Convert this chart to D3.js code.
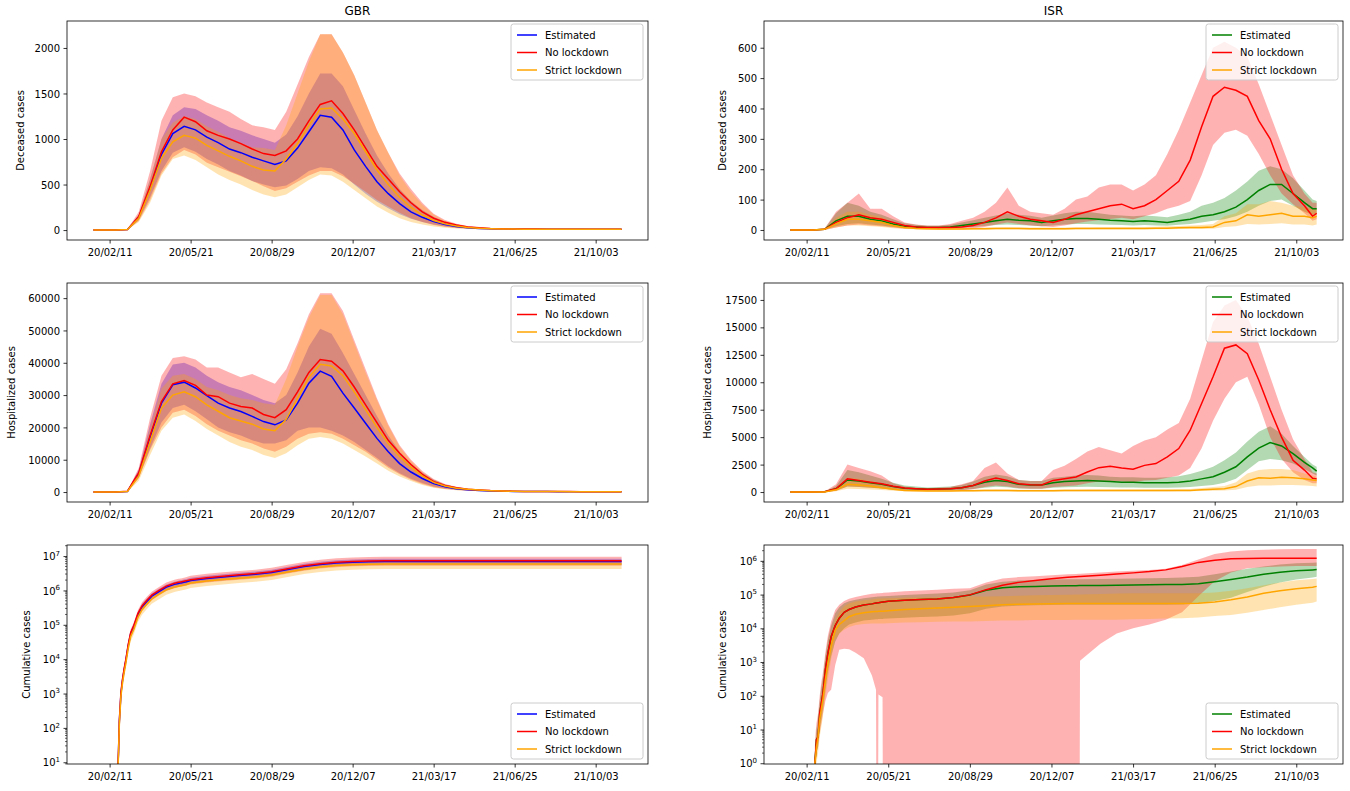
<!DOCTYPE html>
<html>
<head>
<meta charset="utf-8">
<script src="https://cdn.jsdelivr.net/npm/d3@7"></script>
<style>
body { margin: 0; background: #fff; }
svg { font-family: "DejaVu Sans", sans-serif; }
</style>
</head>
<body>
<script>
// day offsets from 2020-01-22
var start = new Date(2020, 0, 22)
var gbrDays = [0,14,28,42,56,70,84,98,112,126,140,154,168,182,196,210,224,238,252,266,280,294,308,322,336,350,364,378,392,406,420,434,448,462,476,490,504,518,532,546,560,574,588,602,616,630,644,652]
var isrDays = [0,14,28,42,56,70,84,98,112,126,140,154,168,182,196,210,224,238,252,266,280,294,308,322,336,350,364,378,392,406,420,434,448,462,476,490,504,518,532,546,560,574,588,602,616,630,640,645]
var gbrCumDays = [28,30,31,32,34,36,38,40,43,46,50,55,60,66,72,80,90,100,105,106,107,108,113,114,120,140,160,180,200,220,240,260,280,300,320,340,360,361,362,380,400,420,440,460,480,500,520,540,560,580,600,620,640,652]
var isrCumDays = [28,30,31,32,34,36,38,40,43,46,50,55,60,66,72,80,90,100,105,106,107,108,113,114,120,140,160,180,200,220,240,260,280,300,320,340,350,354,355,380,400,420,440,460,480,500,520,540,560,580,600,620,640,645]
var tickDates = ["2020-02-11","2020-05-21","2020-08-29","2020-12-07","2021-03-17","2021-06-25","2021-10-03"]
var seriesNames = ["Estimated", "No lockdown", "Strict lockdown"]

// GBR deceased
var gbrDeathEst = [0,0,0,5,140,460,830,1060,1140,1100,1020,960,890,850,800,760,720,760,900,1080,1260,1240,1100,880,700,530,400,290,200,140,95,60,40,25,18,14,12,11,10,10,10,9,9,8,8,8,8,8]
var gbrDeathEstLo = [0,0,0,3,110,360,650,850,910,860,780,720,650,600,540,500,470,490,560,650,690,680,610,500,400,310,240,175,125,90,60,38,26,17,12,9,8,7,7,7,6,6,6,6,6,6,6,6]
var gbrDeathEstHi = [0,0,0,7,170,560,1000,1260,1350,1330,1260,1200,1130,1090,1040,1000,960,1050,1250,1500,1720,1720,1580,1320,1060,820,620,450,320,220,145,92,60,38,27,21,17,15,14,14,14,13,13,12,12,12,12,12]
var gbrDeathNol = [0,0,0,5,150,480,860,1100,1240,1190,1090,1040,1000,950,890,840,820,870,1000,1200,1380,1420,1280,1100,900,700,560,420,300,200,130,85,55,35,25,18,14,12,11,11,10,10,10,10,9,9,9,9]
var gbrDeathNolLo = [0,0,0,3,100,330,620,800,880,830,740,690,640,590,540,480,430,460,530,600,650,650,590,510,420,330,260,190,130,90,55,36,24,16,11,8,7,6,6,6,5,5,5,5,5,5,5,5]
var gbrDeathNolHi = [0,0,0,8,200,650,1200,1460,1500,1470,1400,1350,1300,1220,1150,1130,1100,1300,1600,1900,2150,2150,1950,1700,1400,1100,850,620,450,300,180,110,70,45,32,24,19,17,16,15,15,14,14,14,13,13,13,13]
var gbrDeathStr = [0,0,0,5,130,440,790,970,1040,1010,930,870,810,760,700,660,650,780,950,1150,1330,1340,1220,1060,860,660,500,360,250,165,105,68,44,29,20,15,12,11,10,10,10,9,9,9,9,8,8,8]
var gbrDeathStrLo = [0,0,0,3,90,300,600,780,820,770,690,610,550,500,440,390,360,390,470,550,610,600,530,440,350,260,190,130,90,60,38,25,17,11,8,6,5,5,5,4,4,4,4,4,4,4,4,4]
var gbrDeathStrHi = [0,0,0,7,170,560,1000,1180,1250,1220,1140,1080,1010,960,910,900,880,1150,1500,1850,2150,2150,1950,1700,1400,1100,850,600,420,280,170,100,65,42,28,20,16,14,13,13,12,12,12,11,11,11,11,11]

// ISR deceased
var isrDeathEst = [0,0,0,2,30,45,45,35,30,20,12,10,8,8,10,15,20,25,30,35,32,30,25,30,35,38,38,35,32,30,28,30,28,25,30,35,45,50,60,75,100,130,150,150,120,90,70,70]
var isrDeathEstLo = [0,0,0,1,12,20,22,18,15,10,6,5,4,4,5,8,10,13,16,18,16,15,12,15,18,20,20,18,17,16,15,16,15,14,17,20,25,30,35,45,60,80,95,100,80,60,50,50]
var isrDeathEstHi = [0,0,0,4,55,90,80,60,50,35,22,17,14,14,17,25,32,40,48,55,50,47,40,48,55,60,60,55,50,48,45,48,45,42,50,60,80,90,105,130,160,195,210,200,170,130,100,95]
var isrDeathNol = [0,0,0,2,25,40,50,40,35,25,15,10,8,8,8,10,15,25,40,60,45,35,30,25,35,50,60,70,80,85,70,80,100,130,160,230,340,440,470,460,440,360,300,200,120,80,45,55]
var isrDeathNolLo = [0,0,0,0,8,15,18,15,12,8,4,3,2,2,3,4,6,10,18,25,20,15,12,10,15,22,28,32,36,40,35,45,55,70,80,95,180,280,320,330,310,250,180,120,85,55,30,35]
var isrDeathNolHi = [0,0,0,5,60,90,120,70,70,45,25,18,15,15,20,30,40,60,90,140,80,60,55,50,70,100,110,140,150,150,130,150,180,250,330,420,510,600,620,600,570,480,380,280,180,120,90,90]
var isrDeathStr = [0,0,0,2,20,35,35,30,25,15,8,5,4,3,3,3,4,4,5,5,5,4,4,4,4,5,5,5,5,5,5,5,6,6,7,8,8,10,25,30,50,45,50,55,45,45,40,45]
var isrDeathStrLo = [0,0,0,0,8,15,15,12,10,6,3,2,1,1,1,1,1,1,2,2,2,1,1,1,1,2,2,2,2,2,2,2,2,2,3,3,3,4,10,12,20,18,20,22,18,18,15,18]
var isrDeathStrHi = [0,0,0,3,40,60,60,50,42,25,14,9,7,6,6,6,7,8,9,10,9,8,8,8,8,9,9,10,10,10,10,10,11,12,13,15,16,20,45,55,85,85,95,90,80,75,70,70]

// GBR hospitalized
var gbrHospEst = [0,0,0,200,5700,17100,27500,33200,34000,32200,29800,27500,26000,24900,23400,21800,20800,22300,27500,33700,37400,35800,30600,26000,21300,16600,12500,8800,6200,4200,2600,1600,1000,700,500,350,250,200,170,150,140,130,120,110,100,100,100,100]
var gbrHospEstLo = [0,0,0,150,4500,13500,21500,26000,27000,25000,22500,20000,18500,17500,16000,15000,15000,16000,19000,20000,20000,19000,17500,15500,13000,10500,8000,5800,4100,2800,1750,1080,680,480,340,240,170,135,115,100,95,88,80,75,68,68,68,68]
var gbrHospEstHi = [0,0,0,250,7000,21000,33500,39500,40000,38500,36000,34000,32500,31500,30000,28500,27500,30000,37000,45000,50500,49000,43000,36500,30000,23500,17500,12500,8800,6000,3800,2300,1450,1000,720,500,360,290,245,215,200,185,170,160,145,145,145,145]
var gbrHospNol = [0,0,0,250,6000,17500,28000,33500,34500,33000,30000,29500,27500,26500,26000,24000,23000,25500,31000,37000,41000,40500,37500,32500,27000,21500,16000,12000,8500,5500,3200,2000,1300,900,650,450,330,250,200,180,160,150,140,130,120,120,120,120]
var gbrHospNolLo = [0,0,0,180,4300,13000,20000,24500,25500,23500,21000,19000,17500,16000,15000,13500,12500,14000,16500,18000,18500,18000,16500,14500,12500,10000,7500,5500,3800,2500,1500,950,600,420,300,210,150,120,100,90,80,75,70,65,60,60,60,60]
var gbrHospNolHi = [0,0,0,300,7500,23000,36000,41500,42000,41000,38500,38500,37000,35500,36500,35000,33500,38000,46000,55000,61500,61500,56000,47000,38000,29000,21000,14500,10000,6500,4000,2500,1600,1100,800,560,410,310,250,220,200,185,170,160,150,150,150,150]
var gbrHospStr = [0,0,0,180,5000,15500,26000,30000,31000,29500,27000,25000,23000,22000,21000,19500,19000,22500,29000,35500,39500,39000,36000,31000,25500,20000,15000,11000,7700,5000,3000,1900,1200,850,600,420,300,230,190,170,150,140,130,120,110,110,110,110]
var gbrHospStrLo = [0,0,0,120,3500,11500,19000,23000,24000,22000,19500,17500,15500,14000,13000,11500,10500,12000,14500,16500,17000,16500,15000,13000,11000,8800,6600,4800,3400,2200,1350,850,540,380,270,190,135,105,90,80,72,66,62,58,55,55,55,55]
var gbrHospStrHi = [0,0,0,230,6300,20000,32000,36000,36500,35000,32500,31500,30000,29000,28500,27500,27000,35000,45000,54000,61000,61000,55000,46000,37000,28500,20500,14000,9600,6200,3800,2400,1500,1050,760,530,380,290,240,210,190,175,165,150,140,140,140,140]

// ISR hospitalized
var isrHospEst = [0,0,0,20,300,1100,1000,850,700,500,350,300,250,270,300,400,600,900,1050,950,700,650,650,850,950,1000,1050,1000,950,900,900,850,850,850,900,1000,1200,1400,1800,2300,3200,4000,4500,4200,3500,2700,2200,1900]
var isrHospEstLo = [0,0,0,8,120,500,450,380,320,230,160,130,110,120,130,180,270,400,480,430,320,290,290,380,430,450,480,450,430,410,410,390,390,390,420,470,550,650,850,1200,2000,2800,3000,2900,2600,2100,1700,1500]
var isrHospEstHi = [0,0,0,35,550,2000,1800,1500,1200,850,600,500,420,450,500,650,950,1400,1600,1450,1100,1000,1000,1300,1400,1500,1550,1500,1400,1350,1350,1300,1300,1350,1450,1650,1950,2300,2900,3600,4600,5500,6000,5300,4200,3200,2500,2300]
var isrHospNol = [0,0,0,20,300,1200,1060,900,760,520,365,300,250,270,300,400,600,1000,1280,1050,760,670,640,1060,1220,1370,1830,2220,2340,2190,2070,2430,2590,3200,3960,5630,8060,10500,13100,13400,12600,10200,7500,5000,2900,2000,1250,1200]
var isrHospNolLo = [0,0,0,5,100,500,450,380,320,220,150,120,100,110,130,170,260,450,600,500,350,300,290,450,520,600,800,950,1000,950,900,1050,1100,1300,1500,2200,4000,6500,8500,10000,10500,8000,5000,3000,1800,1100,800,800]
var isrHospNolHi = [0,0,0,40,700,2500,2200,1900,1500,800,500,400,350,380,450,700,1000,2200,2700,1700,1100,1000,1000,2000,2400,3000,3700,4100,3800,3500,4200,4700,5000,5700,6300,8500,12000,15500,17000,17500,16000,13500,10500,7500,4800,3000,1800,1700]
var isrHospStr = [0,0,0,10,200,700,650,550,400,250,150,120,100,100,100,110,120,130,140,130,120,110,110,120,130,130,140,140,140,140,140,140,140,140,150,150,200,250,300,500,1000,1300,1250,1350,1300,1200,1100,1050]
var isrHospStrLo = [0,0,0,4,80,300,280,240,180,110,65,50,40,40,40,45,50,55,60,55,50,45,45,50,55,55,60,60,60,60,60,60,60,60,65,65,90,110,130,220,450,600,600,650,650,600,550,500]
var isrHospStrHi = [0,0,0,20,400,1300,1200,1000,750,450,280,220,180,180,180,200,220,240,260,240,220,200,200,220,240,240,260,260,260,260,260,260,260,260,280,280,370,450,550,900,1700,2000,2100,2100,2000,1700,1500,1400]

// GBR cumulative
var gbrCumEst = [0,5,20,150,1000,2500,5000,9000,25000,55000,90000,200000,330000,480000,680000,900000,1250000,1500000,1600000,1620000,1640000,1650000,1750000,1770000,1950000,2230000,2470000,2710000,2950000,3330000,4090000,4940000,5700000,6270000,6650000,6840000,6940000,6940000,6940000,6940000,6940000,6940000,6940000,6940000,6940000,6940000,6940000,6940000,6940000,6940000,6940000,6940000,6940000,6940000]
var gbrCumEstLo = [0,4,16,120,800,2000,4000,7200,20000,44000,72000,160000,264000,384000,544000,720000,1000000,1200000,1280000,1300000,1310000,1320000,1400000,1420000,1560000,1780000,1980000,2170000,2360000,2660000,3270000,3950000,4560000,5020000,5320000,5470000,5550000,5550000,5550000,5550000,5550000,5550000,5550000,5550000,5550000,5550000,5550000,5550000,5550000,5550000,5550000,5550000,5550000,5550000]
var gbrCumEstHi = [0,6,24,180,1200,3000,6000,10800,30000,66000,108000,240000,400000,580000,820000,1080000,1500000,1800000,1920000,1940000,1970000,1980000,2100000,2120000,2340000,2680000,2960000,3250000,3540000,4000000,4910000,5930000,6840000,7520000,7980000,8210000,8330000,8330000,8330000,8330000,8330000,8330000,8330000,8330000,8330000,8330000,8330000,8330000,8330000,8330000,8330000,8330000,8330000,8330000]
var gbrCumNol = [0,5,22,160,1100,2700,5400,9700,27000,59000,97000,215000,355000,515000,730000,965000,1340000,1610000,1720000,1740000,1760000,1770000,1880000,1900000,2050000,2350000,2600000,2850000,3100000,3500000,4300000,5200000,6000000,6600000,7000000,7200000,7300000,7300000,7300000,7300000,7300000,7300000,7300000,7300000,7300000,7300000,7300000,7300000,7300000,7300000,7300000,7300000,7300000,7300000]
var gbrCumNolLo = [0,3,15,110,780,1900,3800,6900,19000,42000,68000,150000,250000,370000,520000,690000,960000,1150000,1230000,1250000,1260000,1270000,1350000,1360000,1480000,1690000,1870000,2050000,2230000,2520000,3100000,3740000,4320000,4750000,5040000,5180000,5260000,5260000,5260000,5260000,5260000,5260000,5260000,5260000,5260000,5260000,5260000,5260000,5260000,5260000,5260000,5260000,5260000,5260000]
var gbrCumNolHi = [0,7,28,200,1400,3400,6800,12000,34000,74000,120000,270000,450000,650000,920000,1220000,1700000,2040000,2180000,2200000,2230000,2240000,2380000,2400000,2670000,3060000,3380000,3700000,4030000,4550000,5600000,6760000,7800000,8580000,9100000,9360000,9490000,9490000,9490000,9490000,9490000,9490000,9490000,9490000,9490000,9490000,9490000,9490000,9490000,9490000,9490000,9490000,9490000,9490000]
var gbrCumStr = [0,4,17,125,850,2100,4200,7500,21000,46000,75000,166000,274000,400000,565000,750000,1040000,1250000,1330000,1340000,1360000,1370000,1450000,1470000,1640000,1880000,2080000,2280000,2480000,2800000,3440000,4160000,4800000,5280000,5600000,5760000,5840000,5840000,5840000,5840000,5840000,5840000,5840000,5840000,5840000,5840000,5840000,5840000,5840000,5840000,5840000,5840000,5840000,5840000]
var gbrCumStrLo = [0,3,12,90,610,1500,3000,5400,15000,33000,54000,120000,197000,288000,407000,540000,750000,900000,960000,965000,980000,990000,1040000,1060000,1180000,1350000,1500000,1640000,1790000,2020000,2480000,3000000,3460000,3800000,4030000,4150000,4200000,4200000,4200000,4200000,4200000,4200000,4200000,4200000,4200000,4200000,4200000,4200000,4200000,4200000,4200000,4200000,4200000,4200000]
var gbrCumStrHi = [0,5,20,150,1000,2500,5000,9000,25000,55000,90000,200000,330000,480000,680000,900000,1250000,1500000,1600000,1620000,1640000,1650000,1750000,1770000,1970000,2260000,2500000,2740000,2980000,3360000,4130000,4990000,5760000,6340000,6720000,6910000,7010000,7010000,7010000,7010000,7010000,7010000,7010000,7010000,7010000,7010000,7010000,7010000,7010000,7010000,7010000,7010000,7010000,7010000]

// ISR cumulative
var isrCumEst = [0,1,2,5,6,30,60,120,600,1800,5600,12000,20000,30000,36000,43000,49000,53000,56000,56500,57000,57500,60000,60500,63000,68000,71000,74000,82000,97000,135000,160000,170000,175000,180000,183000,184000,185000,185000,187000,190000,192000,195000,198000,200000,210000,240000,280000,330000,400000,460000,510000,540000,550000]
var isrCumEstLo = [0,0,1,2,3,10,20,40,150,500,1500,4000,7000,10000,13000,15000,17000,18000,18500,18600,18700,18800,19000,19100,19500,20500,21500,22500,24000,28000,38000,44000,47000,48000,49000,50000,50000,50000,50000,50000,50000,50000,50000,50000,51000,55000,65000,80000,120000,170000,230000,280000,320000,340000]
var isrCumEstHi = [0,2,5,10,20,70,180,350,1500,4500,12000,28000,42000,55000,63000,70000,78000,84000,86000,86500,87000,87000,89000,89500,91000,97000,102000,107000,115000,135000,200000,240000,260000,270000,278000,283000,285000,286000,286000,290000,295000,300000,305000,310000,320000,340000,400000,480000,580000,680000,780000,850000,880000,900000]
var isrCumNol = [0,1,2,5,6,30,60,120,600,1800,5600,12000,20000,30000,36000,43000,49000,53000,56000,56500,57000,57500,60000,60500,63000,68000,71000,74000,82000,98000,140000,190000,230000,262000,295000,325000,338000,342000,343000,375000,405000,440000,480000,540000,680000,900000,1050000,1150000,1180000,1200000,1200000,1200000,1200000,1200000]
var isrCumNolLo = [0,0,1,2,3,8,15,30,70,120,150,800,2300,2500,2400,1900,1300,400,150,0,0,110,90,0,0,0,0,0,0,0,0,0,0,0,0,0,0,0,1100,3500,7000,10000,13000,18000,30000,90000,250000,450000,600000,650000,680000,700000,700000,700000]
var isrCumNolHi = [0,3,8,15,30,100,250,500,2000,6000,16000,35000,50000,65000,75000,85000,95000,105000,108000,109000,110000,110000,112000,113000,116000,125000,133000,140000,148000,155000,230000,300000,330000,350000,375000,400000,410000,415000,415000,450000,480000,510000,540000,580000,750000,1100000,1600000,1900000,2050000,2150000,2200000,2250000,2250000,2250000]
var isrCumStr = [0,1,1.5,3,6,20,40,80,300,900,2900,8900,13000,17000,22000,26000,29000,31000,31500,31600,31700,31800,32000,32100,33000,36000,38000,40000,42000,44000,47000,50000,52000,53000,53500,54000,54000,54000,54000,54000,54000,54000,54000,54000,54500,55000,60000,70000,85000,110000,130000,150000,165000,175000]
var isrCumStrLo = [0,0,1,1,2,6,12,25,100,300,1200,4600,7000,9000,11000,12500,13500,14000,14000,14000,14000,14000,14000,14000,14200,14800,15200,15600,16000,16000,16500,17000,17000,17500,17500,17500,17800,18000,18000,18000,18000,18500,19000,19500,20000,21000,23000,25000,29000,35000,42000,50000,57000,62000]
var isrCumStrHi = [0,2,3,6,12,40,80,160,600,1800,6000,18000,30000,45000,55000,62000,68000,72000,75000,75500,76000,76000,77000,77500,78000,80000,82000,84000,86000,87000,88000,90000,93000,95000,97000,99000,100000,101000,101000,104000,108000,110000,110000,110000,110000,110000,115000,130000,155000,190000,230000,265000,290000,300000]

var gbrColors = ["blue", "red", "orange"]
var isrColors = ["green", "red", "orange"]

var W = 1350, H = 791
var svg = d3.select("body").append("svg").attr("width", W).attr("height", H)

var cols = [{x0: 67, x1: 648}, {x0: 764, x1: 1343}]
var rows = [{y0: 21, y1: 240}, {y0: 283, y1: 502}, {y0: 545, y1: 764}]

function dateOf(d) { return new Date(start.getTime() + d * 864e5) }
var parseDay = d3.timeParse("%Y-%m-%d")
var fmt = d3.timeFormat("%y/%m/%d")

var panels = [
  {col: 0, row: 0, title: "GBR", ylabel: "Deceased cases", labelX: 20, days: gbrDays, span: 652, domain: [-109, 2296], ticks: [0,500,1000,1500,2000], colors: gbrColors,
   series: [[gbrDeathEst, gbrDeathEstLo, gbrDeathEstHi], [gbrDeathNol, gbrDeathNolLo, gbrDeathNolHi], [gbrDeathStr, gbrDeathStrLo, gbrDeathStrHi]], legend: "top"},
  {col: 1, row: 0, title: "ISR", ylabel: "Deceased cases", labelX: 722, days: isrDays, span: 645, domain: [-33, 688], ticks: [0,100,200,300,400,500,600], colors: isrColors,
   series: [[isrDeathEst, isrDeathEstLo, isrDeathEstHi], [isrDeathNol, isrDeathNolLo, isrDeathNolHi], [isrDeathStr, isrDeathStrLo, isrDeathStrHi]], legend: "top"},
  {col: 0, row: 1, ylabel: "Hospitalized cases", labelX: 11, days: gbrDays, span: 652, domain: [-3080, 64680], ticks: [0,10000,20000,30000,40000,50000,60000], colors: gbrColors,
   series: [[gbrHospEst, gbrHospEstLo, gbrHospEstHi], [gbrHospNol, gbrHospNolLo, gbrHospNolHi], [gbrHospStr, gbrHospStrLo, gbrHospStrHi]], legend: "top"},
  {col: 1, row: 1, ylabel: "Hospitalized cases", labelX: 707, days: isrDays, span: 645, domain: [-907, 19042], ticks: [0,2500,5000,7500,10000,12500,15000,17500], colors: isrColors,
   series: [[isrHospEst, isrHospEstLo, isrHospEstHi], [isrHospNol, isrHospNolLo, isrHospNolHi], [isrHospStr, isrHospStrLo, isrHospStrHi]], legend: "top"},
  {col: 0, row: 2, ylabel: "Cumulative cases", labelX: 26, days: gbrCumDays, span: 652, log: true, domain: [8.9, 2.1e7], ticks: [1e1,1e2,1e3,1e4,1e5,1e6,1e7], colors: gbrColors,
   series: [[gbrCumEst, gbrCumEstLo, gbrCumEstHi], [gbrCumNol, gbrCumNolLo, gbrCumNolHi], [gbrCumStr, gbrCumStrLo, gbrCumStrHi]], legend: "bottom"},
  {col: 1, row: 2, ylabel: "Cumulative cases", labelX: 722, days: isrCumDays, span: 645, log: true, domain: [0.95, 2.95e6], ticks: [1,1e1,1e2,1e3,1e4,1e5,1e6], colors: isrColors,
   series: [[isrCumEst, isrCumEstLo, isrCumEstHi], [isrCumNol, isrCumNolLo, isrCumNolHi], [isrCumStr, isrCumStrLo, isrCumStrHi]], legend: "bottom"}
]

panels.forEach(function(p, pi) {
  var x0 = cols[p.col].x0, x1 = cols[p.col].x1
  var y0 = rows[p.row].y0, y1 = rows[p.row].y1
  var pad = p.span * 0.05
  var x = d3.scaleTime().domain([dateOf(-pad), dateOf(p.span + pad)]).range([x0, x1])
  var y = (p.log ? d3.scaleLog() : d3.scaleLinear()).domain(p.domain).range([y1, y0])
  var yv = function(v) {
    if (p.log && v <= 0) return y1 + 200
    return y(v)
  }
  var xv = function(d, i) { return x(dateOf(p.days[i])) }

  svg.append("clipPath").attr("id", "clip" + pi).append("rect")
    .attr("x", x0).attr("y", y0).attr("width", x1 - x0).attr("height", y1 - y0)
  var plot = svg.append("g").attr("clip-path", "url(#clip" + pi + ")")

  // bands first (they sit under every line, like matplotlib's zorder)
  p.series.forEach(function(s, si) {
    var area = d3.area().x(xv)
      .y0(function(d, i) { return yv(s[1][i]) })
      .y1(function(d, i) { return yv(s[2][i]) })
    plot.append("path").attr("d", area(s[0])).attr("fill", p.colors[si]).attr("fill-opacity", 0.3)
  })
  p.series.forEach(function(s, si) {
    var line = d3.line().x(xv).y(function(d) { return yv(d) })
    plot.append("path").attr("d", line(s[0])).attr("fill", "none").attr("stroke", p.colors[si]).attr("stroke-width", 1.5)
  })

  // x axis
  var xAxis = d3.axisBottom(x).tickValues(tickDates.map(parseDay)).tickFormat(fmt).tickSizeOuter(0).tickSize(3.5).tickPadding(3.5)
  var gx = svg.append("g").attr("transform", "translate(0," + y1 + ")").call(xAxis)
  gx.select(".domain").remove()
  gx.selectAll(".tick line").attr("stroke", "#000").attr("stroke-width", 0.8)
  gx.selectAll(".tick text").attr("font-size", 10).attr("fill", "#000").attr("font-family", "DejaVu Sans").attr("dy", null).attr("y", 16.3)

  // y axis
  var yAxis = d3.axisLeft(y).tickValues(p.ticks).tickSizeOuter(0).tickSize(3.5).tickPadding(3.5).tickFormat(p.log ? function() { return "" } : d3.format("d"))
  var gy = svg.append("g").attr("transform", "translate(" + x0 + ",0)").call(yAxis)
  gy.select(".domain").remove()
  gy.selectAll(".tick line").attr("stroke", "#000").attr("stroke-width", 0.8)
  gy.selectAll(".tick text").attr("font-size", 10).attr("fill", "#000").attr("font-family", "DejaVu Sans").attr("dy", "0.36em")
  if (p.log) {
    gy.selectAll(".tick text").each(function(d) {
      var t = d3.select(this)
      t.append("tspan").text("10")
      t.append("tspan").attr("dy", "-0.6em").attr("font-size", 7).text(Math.round(Math.log10(d)))
    })
    var minor = []
    for (var n = -1; n < 8; n++) {
      for (var k = 2; k < 10; k++) {
        var v = k * Math.pow(10, n)
        if (v > p.domain[0] && v < p.domain[1]) minor.push(v)
      }
    }
    gy.selectAll(".minor").data(minor).enter().append("line")
      .attr("x1", -2).attr("x2", 0)
      .attr("y1", function(d) { return y(d) }).attr("y2", function(d) { return y(d) })
      .attr("stroke", "#000").attr("stroke-width", 0.6)
  }

  // frame
  svg.append("rect").attr("x", x0).attr("y", y0).attr("width", x1 - x0).attr("height", y1 - y0)
    .attr("fill", "none").attr("stroke", "#000").attr("stroke-width", 0.8)

  // y label
  var cy = (y0 + y1) / 2
  svg.append("text").attr("transform", "translate(" + (p.labelX + 3.5) + "," + cy + ") rotate(-90)")
    .attr("text-anchor", "middle").attr("font-size", 10).attr("fill", "#000").text(p.ylabel)

  if (p.title) {
    svg.append("text").attr("x", (x0 + x1) / 2).attr("y", y0 - 6)
      .attr("text-anchor", "middle").attr("font-size", 12).attr("fill", "#000").text(p.title)
  }

  // legend
  var lw = 132, lh = 56
  var lx = x1 - 5 - lw
  var ly = p.legend == "top" ? y0 + 3 : y1 - 5 - lh
  var lg = svg.append("g").attr("transform", "translate(" + lx + "," + ly + ")")
  lg.append("rect").attr("width", lw).attr("height", lh).attr("rx", 2.5)
    .attr("fill", "#fff").attr("fill-opacity", 0.8).attr("stroke", "#cccccc").attr("stroke-width", 1)
  seriesNames.forEach(function(name, i) {
    var ey = 11 + i * 17.5
    lg.append("line").attr("x1", 6).attr("x2", 26).attr("y1", ey).attr("y2", ey)
      .attr("stroke", p.colors[i]).attr("stroke-width", 1.5)
    lg.append("text").attr("x", 34).attr("y", ey).attr("dy", "0.36em")
      .attr("font-size", 10).attr("fill", "#000").text(name)
  })
})
</script>
</body>
</html>
